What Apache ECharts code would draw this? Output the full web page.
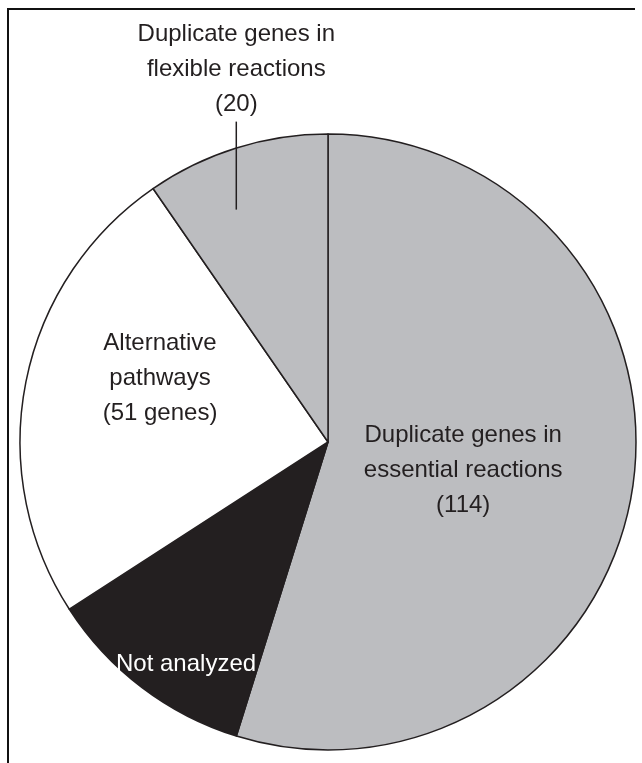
<!DOCTYPE html>
<html>
<head>
<meta charset="utf-8">
<script src="https://cdn.jsdelivr.net/npm/echarts@6/dist/echarts.min.js"></script>
<style>
  html, body { margin: 0; padding: 0; background: #fff; }
  #frame { position: absolute; left: 7px; top: 8px; width: 626px; height: 760px;
           border-top: 2px solid #111; border-left: 2px solid #111; }
  #chart { position: absolute; left: 0; top: 0; width: 642px; height: 763px; }
</style>
</head>
<body>
<div id="frame"></div>
<div id="chart"></div>
<script>
// slices, clockwise from 12 o'clock
var names = ['Duplicate genes in essential reactions', 'Not analyzed', 'Alternative pathways', 'Duplicate genes in flexible reactions'];
var values = [114, 23, 51, 20];
var colors = ['#bcbdc0', '#231f20', '#ffffff', '#bcbdc0'];
var labels = [
    'Duplicate genes in\nessential reactions\n(114)',
    'Not analyzed',
    'Alternative\npathways\n(51 genes)',
    'Duplicate genes in\nflexible reactions\n(20)\n{l|}'
];
var textColors = ['#231f20', '#ffffff', '#231f20', '#231f20'];
var offsets = [[-20, 5], [-47, 97], [-14, -33], [-45, -179]];

var chart = echarts.init(document.getElementById('chart'));

var data = [];
for (var i = 0; i < values.length; i++) {
    data.push({
        name: names[i],
        value: values[i],
        itemStyle: { color: colors[i] },
        label: {
            formatter: labels[i],
            color: textColors[i],
            offset: offsets[i]
        }
    });
}

var option = {
    animation: false,
    series: [
        {
            type: 'pie',
            center: [328, 442],
            radius: 308,
            startAngle: 90,
            clockwise: true,
            avoidLabelOverlap: false,
            itemStyle: {
                borderColor: '#231f20',
                borderWidth: 1.5
            },
            label: {
                show: true,
                position: 'inside',
                fontFamily: 'Liberation Sans, Arial, sans-serif',
                fontSize: 24,
                lineHeight: 35,
                align: 'center',
                rich: {
                    l: { width: 1.5, height: 88, lineHeight: 88, backgroundColor: '#231f20' }
                }
            },
            labelLine: { show: false },
            emphasis: { disabled: true },
            data: data
        }
    ]
};

chart.setOption(option);
</script>
</body>
</html>
